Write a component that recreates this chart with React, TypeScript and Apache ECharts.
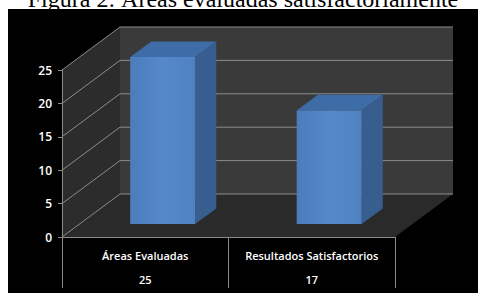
import { useEffect, useRef } from 'react';
import * as echarts from 'echarts';

const titleText = 'Figura 2: Áreas evaluadas satisfactoriamente';
const categories = ['Áreas Evaluadas', 'Resultados Satisfactorios'];
const values = [25, 17];
const yMin = 0;
const yMax = 25;
const yStep = 5;

const DEPTH = [58, -43];
const BAR_Z = [0.3, 0.665];
const BAR_WIDTH = 0.39;
const LABEL_FONT = '"Open Sans", sans-serif';

export default function App() {
  const ref = useRef<HTMLDivElement>(null);
  useEffect(() => {
    if (!ref.current) return;
    const chart = echarts.init(ref.current, undefined, { renderer: 'svg' });
    const ticks: number[] = [];
    for (let v = yMin; v <= yMax; v += yStep) ticks.push(v);

    const proj = (x: number, y: number, z: number) => [x + DEPTH[0] * z, y + DEPTH[1] * z];

    chart.setOption({
      animation: false,
      backgroundColor: '#ffffff',
      graphic: [
        { type: 'rect', z: -100, shape: { x: 8, y: 9, width: 470, height: 284 }, style: { fill: '#000000' } },
        {
          type: 'text', z: -90, x: 243, y: -1,
          style: { text: titleText, fill: '#000', font: '24px "Liberation Serif", "Times New Roman", serif', align: 'center', verticalAlign: 'middle' },
        },
      ],
      grid: { left: 62, top: 70, width: 333, height: 167, containLabel: false },
      xAxis: {
        type: 'category',
        data: categories,
        z: 10,
        axisLine: { show: true, lineStyle: { color: '#8a8a8a', width: 1 } },
        axisTick: { show: true, length: 51, interval: 0, lineStyle: { color: '#8a8a8a' } },
        axisLabel: {
          interval: 0,
          margin: 6,
          color: '#ffffff',
          fontFamily: LABEL_FONT,
          fontSize: 11,
          fontWeight: 600,
          formatter: (v: string, i: number) => `{a|${v}}\n{b|${values[i]}}`,
          rich: {
            a: { color: '#fff', fontFamily: LABEL_FONT, fontSize: 11, fontWeight: 600, lineHeight: 24 },
            b: { color: '#fff', fontFamily: LABEL_FONT, fontSize: 11, fontWeight: 600, lineHeight: 24 },
          },
        },
        splitLine: { show: false },
      },
      yAxis: {
        type: 'value',
        min: yMin,
        max: yMax,
        interval: yStep,
        z: 10,
        axisLine: { show: true, lineStyle: { color: '#8a8a8a', width: 1 } },
        axisTick: { show: true, length: 4, lineStyle: { color: '#8a8a8a' } },
        axisLabel: { color: '#ffffff', fontFamily: LABEL_FONT, fontSize: 12, fontWeight: 600, margin: 10 },
        splitLine: { show: false },
      },
      series: [
        {
          type: 'custom',
          z: 1,
          silent: true,
          data: [[0, 0]],
          renderItem: (params: any, api: any) => {
            const cs = params.coordSys;
            const L = cs.x, R = cs.x + cs.width;
            const B = api.coord([0, yMin])[1];
            const T = api.coord([0, yMax])[1];
            const children: any[] = [];
            children.push({
              type: 'polygon',
              shape: { points: [proj(L, T, 1), proj(R, T, 1), proj(R, B, 1), proj(L, B, 1)] },
              style: { fill: '#3a3a3a' },
            });
            children.push({
              type: 'polygon',
              shape: { points: [[L, T], proj(L, T, 1), proj(L, B, 1), [L, B]] },
              style: { fill: '#2c2c2c' },
            });
            children.push({
              type: 'polygon',
              shape: { points: [[L, B], [R, B], proj(R, B, 1), proj(L, B, 1)] },
              style: { fill: '#2a2a2a' },
            });
            ticks.forEach((v) => {
              const y = api.coord([0, v])[1];
              children.push({
                type: 'polyline',
                shape: { points: [[L, y], proj(L, y, 1), proj(R, y, 1)] },
                style: { stroke: '#8c8c8c', lineWidth: 1, fill: 'none' },
              });
            });
            return { type: 'group', children };
          },
        },
        {
          type: 'custom',
          z: 3,
          data: values.map((v, i) => [i, v]),
          renderItem: (params: any, api: any) => {
            const c = api.value(0);
            const v = api.value(1);
            const bw = api.size([1, 0])[0];
            const base = api.coord([c, 0]);
            const top = api.coord([c, v]);
            const hw = (bw * BAR_WIDTH) / 2;
            const cx = base[0];
            const [zf, zb] = BAR_Z;
            const fl = proj(cx - hw, top[1], zf);
            const fr = proj(cx + hw, base[1], zf);
            return {
              type: 'group',
              children: [
                {
                  type: 'polygon',
                  shape: { points: [proj(cx + hw, top[1], zf), proj(cx + hw, top[1], zb), proj(cx + hw, base[1], zb), proj(cx + hw, base[1], zf)] },
                  style: { fill: '#385e8f' },
                },
                {
                  type: 'polygon',
                  shape: { points: [proj(cx - hw, top[1], zf), proj(cx - hw, top[1], zb), proj(cx + hw, top[1], zb), proj(cx + hw, top[1], zf)] },
                  style: { fill: '#3e6ca6' },
                },
                {
                  type: 'rect',
                  shape: { x: fl[0], y: fl[1], width: fr[0] - fl[0], height: fr[1] - fl[1] },
                  style: {
                    fill: new echarts.graphic.LinearGradient(0, 0, 1, 0, [
                      { offset: 0, color: '#4b7dbc' },
                      { offset: 0.5, color: '#5689c9' },
                      { offset: 1, color: '#4e82c1' },
                    ]),
                  },
                },
              ],
            };
          },
        },
      ],
    });
    return () => chart.dispose();
  }, []);
  return <div ref={ref} style={{ position: 'fixed', left: 0, top: 0, width: 478, height: 293 }} />;
}
